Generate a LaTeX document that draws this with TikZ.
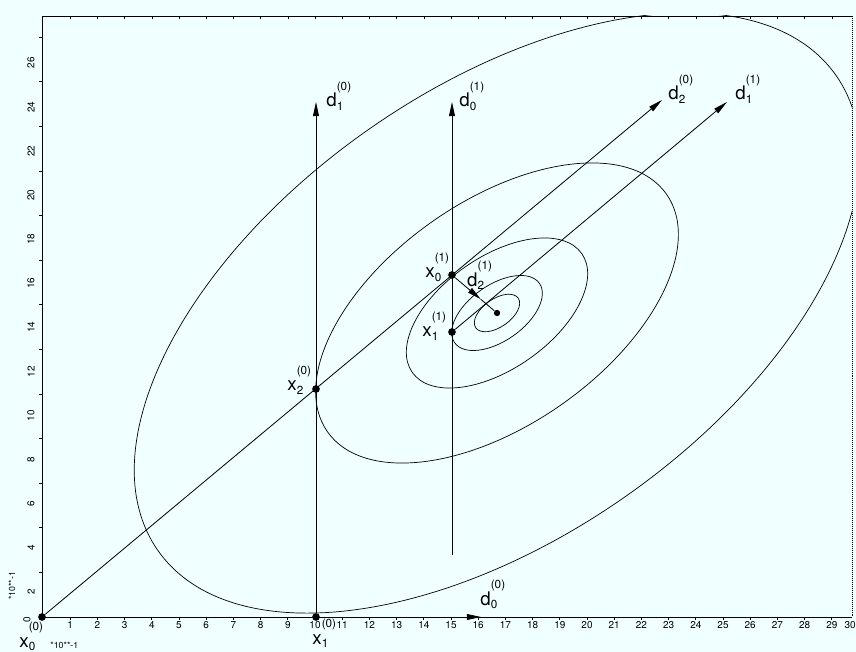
\documentclass[tikz,border=0pt]{standalone}
\usepackage{fontspec}
\setmainfont{TeX Gyre Heros}
\usetikzlibrary{positioning,arrows.meta,calc}

\definecolor{paper}{RGB}{240,255,255}
\newcommand{\scrfont}{\fontsize{10}{12}\selectfont}
\newcommand{\vlbl}[3]{#1\rlap{\raisebox{-3pt}{\scrfont #2}}\raisebox{14pt}{\scrfont (#3)}}

\begin{document}
\begin{tikzpicture}[
    x=0.03cm, y=-0.03cm,
    line width=0.7pt,
    dot/.style={circle, fill, inner sep=0pt, minimum size=2.3mm},
    lbl/.style={inner sep=0pt, anchor=base west, font=\fontsize{16}{18}\selectfont},
    ticklbl/.style={inner sep=0pt, font=\fontsize{8.5}{10}\selectfont},
    arrow/.style={-{Triangle[length=12pt, width=5pt]}},
    contour/.style={line width=0.6pt}
]

\fill[paper] (0,0) rectangle (856,652);
\useasboundingbox (0,0) rectangle (856,652);

% ============================================================
% RAHMEN UND SKALEN
% ============================================================
\draw (42,16) -- (42,617) -- (852,617);
\draw[line width=0.4pt] (42,16) -- (852,16);
\draw[densely dotted] (852,16) -- (852,617);

\foreach \i in {1,...,29} {
    \draw (43+27.2*\i,617) -- ++(0,3);
    \node[ticklbl] at (43+27.2*\i,625) {\i};
}
\node[ticklbl, anchor=east] (x30) at (856,625) {30};
\foreach \i in {1,...,29}
    \draw[line width=0.4pt] (43+27.2*\i,16) -- ++(0,3);
\foreach \v in {2,4,...,26} {
    \draw (42,617-22.3*\v) -- ++(-3,0);
    \node[ticklbl, rotate=90] at (31,636-22.04*\v) {\v};
}
\node[ticklbl, rotate=90] (y0) at (27,620) {0};
\node[ticklbl, rotate=90, font=\fontsize{7.5}{9}\selectfont] (ymul) at (12,586) {*10**-1};
\node[ticklbl, anchor=west, font=\fontsize{7.5}{9}\selectfont] (xmul) at (50,645) {*10**-1};

% ============================================================
% HOEHENLINIEN
% ============================================================
\coordinate (c) at (497,313);
\begin{scope}
    \clip (42,16) rectangle (852,617);
    \foreach \s in {1,0.5,0.25,0.125,0.0625}
        \draw[contour, rotate around={35:(c)}] (c) ellipse [x radius=414*\s, y radius=224*\s];
\end{scope}

% ============================================================
% PUNKTE UND RICHTUNGEN
% ============================================================
\node[dot] (x00) at (42,617) {};
\node[dot] (x10) at (316,617) {};
\node[dot] (x20) at (316,389) {};
\node[dot] (x01) at (452,275) {};
\node[dot] (x11) at (452,332) {};
\node[dot, minimum size=1.9mm] (xmin) at (c) {};

\coordinate (d00) at (481,617);
\coordinate (d10) at (316,102);
\coordinate (d20) at (662,100);
\coordinate (d01) at (452,102);
\coordinate (d01s) at (452,555);
\coordinate (d11) at (727,102);
\coordinate (d21) at ($(x01)!0.64!(xmin)$);

\draw[arrow] (x10) -- (d00);
\draw[arrow] (x10) -- (d10);
\draw[arrow] (x00) -- (d20);
\draw[arrow] (d01s) -- (d01);
\draw[arrow] (x11) -- (d11);
\draw[arrow] (x01) -- (d21);
\draw (d21) -- (xmin);

\node[lbl] (lx00) at ($(x00)+(-23,30)$) {\vlbl{x}{0}{0}};
\node[lbl] (lx10) at ($(x10)+(-4,27)$) {\vlbl{x}{1}{0}};
\node[lbl] (lx20) at ($(x20)+(-29,2)$) {\vlbl{x}{2}{0}};
\node[lbl] (lx01) at ($(x01)+(-27,3)$) {\vlbl{x}{0}{1}};
\node[lbl] (lx11) at ($(x11)+(-30,5)$) {\vlbl{x}{1}{1}};
\node[lbl] (ld00) at ($(d00)+(-1,-12)$) {\vlbl{d}{0}{0}};
\node[lbl] (ld10) at ($(d10)+(10,5)$) {\vlbl{d}{1}{0}};
\node[lbl] (ld20) at ($(d20)+(6,0)$) {\vlbl{d}{2}{0}};
\node[lbl] (ld01) at ($(d01)+(7,5)$) {\vlbl{d}{0}{1}};
\node[lbl] (ld11) at ($(d11)+(8,-2)$) {\vlbl{d}{1}{1}};
\node[lbl] (ld21) at ($(d21)+(-14,-13)$) {\vlbl{d}{2}{1}};

\end{tikzpicture}
\end{document}
